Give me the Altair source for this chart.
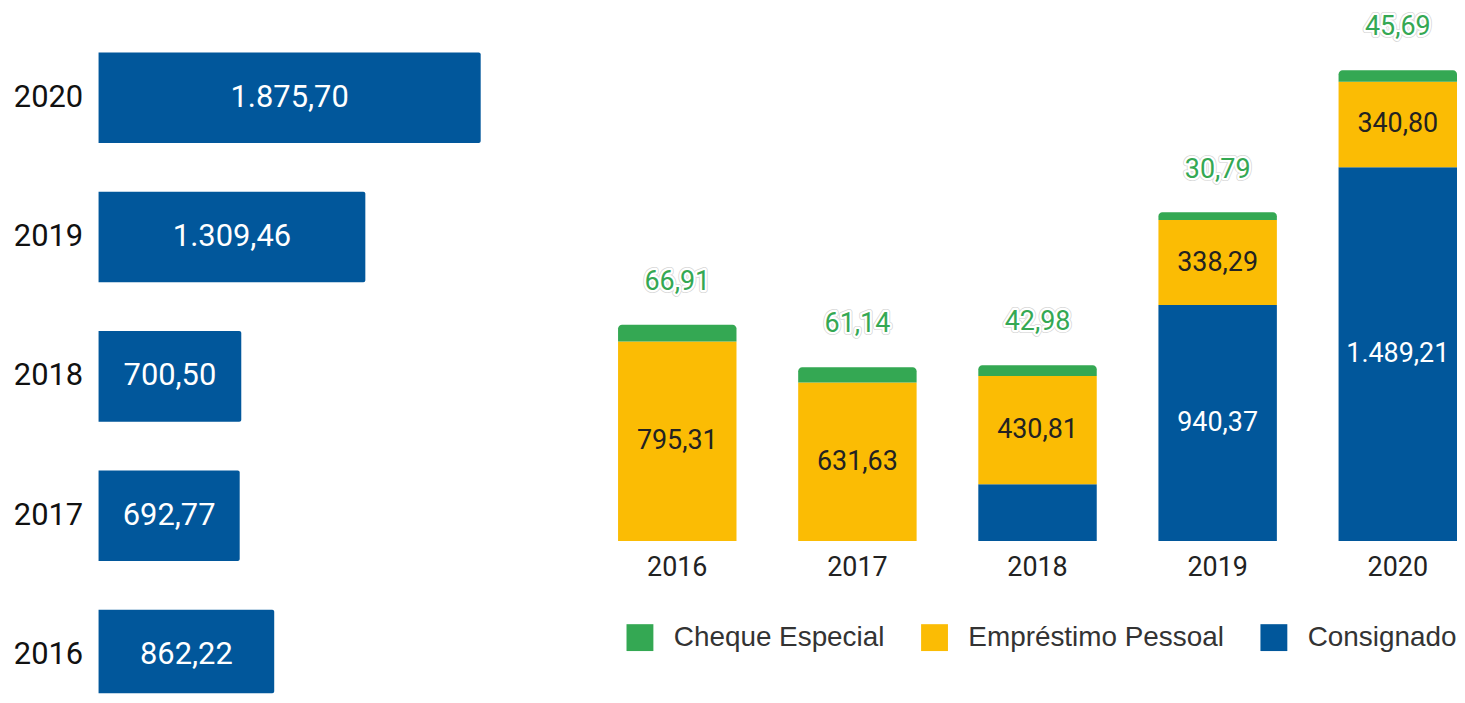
import altair as alt
import pandas as pd

years = ["2016", "2017", "2018", "2019", "2020"]
year_nums = [2016, 2017, 2018, 2019, 2020]
totals = [862.22, 692.77, 700.50, 1309.46, 1875.70]
consignado = [0.0, 0.0, 226.71, 940.37, 1489.21]
emprestimo = [795.31, 631.63, 430.81, 338.29, 340.80]
cheque = [66.91, 61.14, 42.98, 30.79, 45.69]

series_names = ["Cheque Especial", "Empréstimo Pessoal", "Consignado"]
series_colors = ["#34A853", "#FBBC04", "#01579B"]
BLUE = "#01579B"


def br(v):
    return f"{v:,.2f}".replace(",", "X").replace(".", ",").replace("X", ".")


left_df = pd.DataFrame({"year": year_nums, "total": totals,
                        "label": [br(v) for v in totals]})

rows = []
for i, y in enumerate(years):
    for name, vals, order in [("Consignado", consignado, 0),
                              ("Empréstimo Pessoal", emprestimo, 1),
                              ("Cheque Especial", cheque, 2)]:
        v = vals[i]
        rows.append({"year": y, "serie": name, "value": v, "order": order,
                     "label": br(v), "show": v > 250})
long_df = pd.DataFrame(rows)

# ---------------- left panel ----------------
yl_scale = alt.Scale(domain=[2015.725, 2020.632], nice=False, zero=False, clamp=True)
yl_axis = alt.Axis(title=None, domain=False, ticks=False, grid=False,
                   values=year_nums, format="d", labelFont="Roboto",
                   labelFontSize=31, labelColor="#111111", labelPadding=16,
                   labelBaseline="middle", labelOffset=-0.5,
                   minExtent=91, maxExtent=91)
xl_scale = alt.Scale(domain=[0, 1954], nice=False, zero=True)

left_bars = alt.Chart(left_df).transform_calculate(
    lo="datum.year - 0.325", hi="datum.year + 0.325"
).mark_bar(color=BLUE, cornerRadiusTopRight=2, cornerRadiusBottomRight=2).encode(
    y=alt.Y("lo:Q", scale=yl_scale, axis=yl_axis),
    y2="hi:Q",
    x=alt.X("total:Q", scale=xl_scale, axis=None),
    x2=alt.datum(0),
)
left_text = alt.Chart(left_df).transform_calculate(half="datum.total / 2").mark_text(
    font="Roboto", fontSize=31, color="white", baseline="middle", align="center"
).encode(
    y=alt.Y("year:Q", scale=yl_scale, axis=yl_axis),
    x=alt.X("half:Q", scale=xl_scale, axis=None),
    text="label:N",
)
left = alt.layer(left_bars, left_text).properties(width=400, height=687)

# ---------------- right panel ----------------
xr = alt.X("year:N", sort=years,
           scale=alt.Scale(paddingInner=0.3425, paddingOuter=0),
           axis=alt.Axis(title=None, labelAngle=0, domain=False, ticks=False,
                         labelFont="Roboto", labelFontSize=27, labelColor="#222222",
                         labelPadding=14))
yr_scale = alt.Scale(domain=[0, 2117], nice=False, zero=True)

color = alt.Color("serie:N",
                  scale=alt.Scale(domain=series_names, range=series_colors),
                  legend=alt.Legend(title=None, orient="none", direction="horizontal",
                                    legendX=530, legendY=617, padding=0,
                                    symbolType="square", symbolSize=729,
                                    symbolStrokeWidth=0, labelOffset=20,
                                    columnPadding=36, labelFont="Liberation Sans",
                                    labelFontSize=28, labelColor="#333333",
                                    labelLimit=400))

base = alt.Chart(long_df).transform_stack(
    stack="value", groupby=["year"], as_=["y0", "y1"],
    sort=[alt.SortField("order", "ascending")]
).transform_calculate(mid="(datum.y0 + datum.y1) / 2")

bars_main = base.transform_filter("datum.serie != 'Cheque Especial'").mark_bar().encode(
    x=xr,
    y=alt.Y("y0:Q", scale=yr_scale, axis=None),
    y2="y1:Q",
    color=color,
)
bars_top = base.transform_filter("datum.serie == 'Cheque Especial'").mark_bar(
    cornerRadiusTopLeft=4, cornerRadiusTopRight=4
).encode(
    x=xr,
    y=alt.Y("y0:Q", scale=yr_scale, axis=None),
    y2="y1:Q",
    color=color,
)

lab_yellow = base.transform_filter(
    "datum.serie == 'Empréstimo Pessoal' && datum.show"
).mark_text(font="Roboto", fontSize=27, color="#222222", baseline="middle").encode(
    x=xr, y=alt.Y("mid:Q", scale=yr_scale, axis=None), text="label:N")
lab_blue = base.transform_filter(
    "datum.serie == 'Consignado' && datum.show"
).mark_text(font="Roboto", fontSize=27, color="white", baseline="middle").encode(
    x=xr, y=alt.Y("mid:Q", scale=yr_scale, axis=None), text="label:N")

green_base = base.transform_filter("datum.serie == 'Cheque Especial'")
halo1 = green_base.mark_text(font="Roboto", fontSize=27, baseline="middle", dy=-43,
                             color="#d6d6d6", stroke="#d6d6d6", strokeWidth=6,
                             strokeJoin="round").encode(
    x=xr, y=alt.Y("y1:Q", scale=yr_scale, axis=None), text="label:N")
halo2 = green_base.mark_text(font="Roboto", fontSize=27, baseline="middle", dy=-43,
                             color="white", stroke="white", strokeWidth=4.5,
                             strokeJoin="round").encode(
    x=xr, y=alt.Y("y1:Q", scale=yr_scale, axis=None), text="label:N")
lab_green = green_base.mark_text(font="Roboto", fontSize=27, baseline="middle", dy=-43,
                                 color="#34A853").encode(
    x=xr, y=alt.Y("y1:Q", scale=yr_scale, axis=None), text="label:N")

right = alt.layer(bars_main, bars_top, lab_yellow, lab_blue, halo1, halo2, lab_green
                  ).properties(width=843, height=534)

chart = alt.hconcat(left, right, spacing=121).properties(padding=0).configure_view(
    stroke=None).configure_concat(spacing=121)

chart.save("out.html", embed_options={"renderer": "svg", "actions": False})
